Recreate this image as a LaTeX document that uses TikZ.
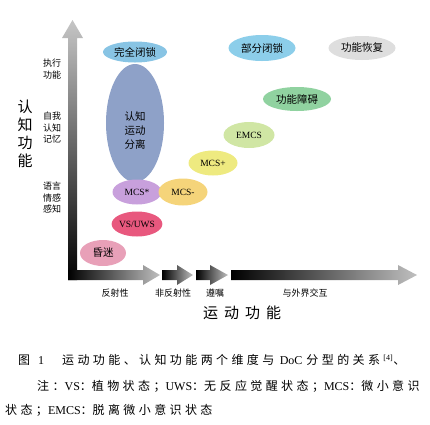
\documentclass[tikz,border=0pt]{standalone}
\usepackage{fontspec}
\setmainfont{Liberation Serif}
\newfontfamily\cjk{Noto Sans CJK SC}
\usetikzlibrary{shapes.geometric}
\makeatletter
\newcommand\tracked[1]{{\cjk\@tfor\capch:=#1\do{\capch\kern3.4pt}}}
\makeatother
\definecolor{lockblue}{RGB}{136,196,228}
\definecolor{partblue}{RGB}{140,206,234}
\definecolor{slate}{RGB}{142,161,200}
\definecolor{lavender}{RGB}{200,160,220}
\definecolor{apricot}{RGB}{245,212,122}
\definecolor{lemon}{RGB}{238,234,128}
\definecolor{rosered}{RGB}{232,88,126}
\definecolor{rosepink}{RGB}{232,160,184}
\definecolor{palegreen}{RGB}{208,230,164}
\definecolor{mintgreen}{RGB}{144,210,160}
\definecolor{palegray}{RGB}{222,222,222}
\tikzset{%
  % Specifications for style of nodes:
          base/.style = {ellipse, inner sep=0pt, minimum width=48, minimum height=25,
                         text centered, font=\fontsize{9.5}{11}\selectfont},
       zhbase/.style = {base, minimum width=67, minimum height=25,
                         font=\cjk\fontsize{10.5}{12}\selectfont},
      bluebox/.style = {zhbase, fill=lockblue},
    purplebox/.style = {base, fill=lavender},
    yellowbox/.style = {base, fill=lemon},
    orangebox/.style = {base, fill=apricot},
       redbox/.style = {base, fill=rosered},
      pinkbox/.style = {zhbase, fill=rosepink},
     greenbox/.style = {base, fill=palegreen},
      mintbox/.style = {zhbase, fill=mintgreen},
      graybox/.style = {zhbase, fill=palegray},
      axislab/.style = {align=center, font=\cjk\fontsize{9}{11.5}\selectfont},
      caption/.style = {anchor=west, inner sep=0pt, font=\fontsize{12}{13}\selectfont},
}

\begin{document}
\begin{tikzpicture}[x=1pt, y=-1pt]
  \useasboundingbox (0,0) rectangle (430,424);
  % Axes (shaded arrows)
  \shade[top color=gray!45, bottom color=black]
    (68,280) -- (68,38) -- (62,38) -- (72.5,20) -- (83,38) -- (77,38) -- (77,280) -- cycle;
  \shade[left color=black, right color=gray!50]
    (68,270) -- (143,270) -- (143,265) -- (160,275) -- (143,285) -- (143,280) -- (68,280) -- cycle;
  \foreach \xa/\xb/\xc in {162/177/193, 196/210/228, 231/398/417}
    \shade[left color=black, right color=gray!50]
      (\xa,270) -- (\xb,270) -- (\xb,265) -- (\xc,275) -- (\xb,285) -- (\xb,280) -- (\xa,280) -- cycle;

  % Specification of nodes (position, etc.)
  \node (lockin)   [bluebox, minimum width=64, minimum height=21] at (135,52) {完全闭锁};
  \node (split)    [base, fill=slate, minimum width=58, minimum height=118,
                    label={[name=splittext, yshift=-8pt, axislab,
                    font=\cjk\fontsize{10.5}{14}\selectfont]center:认知\\运动\\分离}] at (135,123) {};
  \node (mcsstar)  [purplebox, minimum width=49] at (137,192) {MCS*};
  \node (mcsminus) [orangebox, minimum width=49, minimum height=27] at (183,192) {MCS-};
  \node (vsuws)    [redbox] at (137,224) {VS/UWS};
  \node (coma)     [pinkbox, minimum width=46, minimum height=26] at (103,253) {昏迷};
  \node (mcsplus)  [yellowbox, minimum width=49] at (213,163) {MCS+};
  \node (emcs)     [greenbox, minimum width=51, minimum height=26] at (249,135) {EMCS};
  \node (disorder) [mintbox, minimum width=68, minimum height=24] at (297,99) {功能障碍};
  \node (partlock) [bluebox, fill=partblue, minimum height=26] at (262,48) {部分闭锁};
  \node (recovery) [graybox, minimum height=24] at (362,48) {功能恢复};

  % Axis labels
  \node (cogaxis)  [align=center, font=\cjk\fontsize{15}{18}\selectfont] at (25,134) {认\\知\\功\\能};
  \node (exec)     [axislab] at (52,69) {执行\\功能};
  \node (memory)   [axislab] at (52,128) {自我\\认知\\记忆};
  \node (language) [axislab] at (52,198) {语言\\情感\\感知};
  \node (reflex)   [axislab] at (115,293) {反射性};
  \node (nonreflex)[axislab] at (173,293) {非反射性};
  \node (command)  [axislab] at (215,293) {遵嘱};
  \node (interact) [axislab] at (305,293) {与外界交互};
  \node (motaxis)  [font=\cjk\fontsize{15}{18}\selectfont] at (242,313) {运\kern6pt 动\kern6pt 功\kern6pt 能};

  % Caption
  \node (cap1) [caption] at (18,360)
    {{\cjk 图}\hspace{8pt}1\hspace{18pt}\tracked{运动功能、认知功能两个维度与}\hspace{2pt}DoC\hspace{4pt}\tracked{分型的关系}\textsuperscript{[4]}{\cjk 、}};
  \node (cap2) [caption] at (37,386)
    {\tracked{注}{\cjk ：}VS{\cjk ：}\tracked{植物状态}{\cjk ；}UWS{\cjk ：}\tracked{无反应觉醒状态}{\cjk ；}MCS{\cjk ：}\tracked{微小意识}};
  \node (cap3) [caption] at (5,410)
    {\tracked{状态}{\cjk ；}EMCS{\cjk ：}\tracked{脱离微小意识状态}};
\end{tikzpicture}
\end{document}
